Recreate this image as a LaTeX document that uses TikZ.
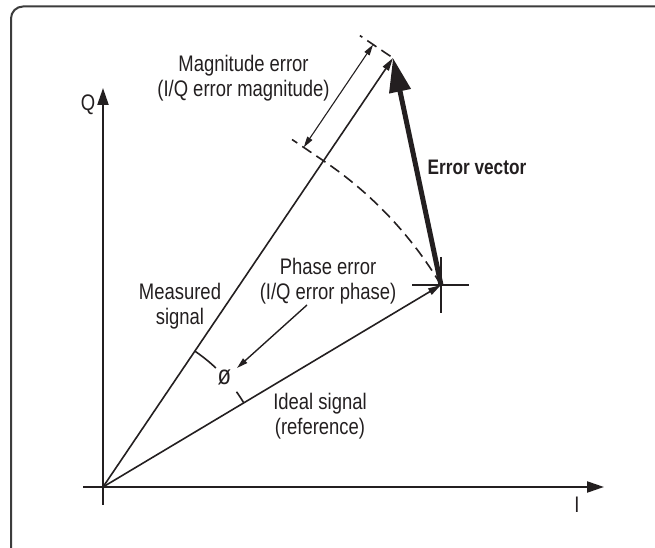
\documentclass[tikz,border=0pt]{standalone}
\usepackage{fontspec}
\setmainfont{Liberation Sans}[FakeStretch=0.82]
\usetikzlibrary{arrows.meta}
\definecolor{ink}{RGB}{35,31,32}
\definecolor{framec}{RGB}{60,60,60}
\begin{document}
\begin{tikzpicture}[x=1pt,y=1pt,
  lbl/.style={font=\fontsize{22.5}{25}\selectfont, inner sep=0pt, anchor=base, text=ink},
  boldlbl/.style={font=\fontsize{21}{25}\selectfont\bfseries, inner sep=0pt, anchor=base, text=ink},
  axisline/.style={draw=ink, line width=2.2pt, -{Triangle[length=17pt,width=11pt]}},
  vecline/.style={draw=ink, line width=1.6pt, -{Triangle[length=13pt,width=7pt]}},
  errvec/.style={draw=ink, line width=5pt, -{Triangle[length=34pt,width=21pt]}},
  dimline/.style={draw=ink, line width=1.1pt, {Triangle[length=11pt,width=6pt]}-{Triangle[length=11pt,width=6pt]}},
  dashline/.style={draw=ink, line width=1.6pt, dash pattern=on 11pt off 6pt},
  thinline/.style={draw=ink, line width=1.6pt},
  crossline/.style={draw=ink, line width=1.4pt},
  framepath/.style={draw=framec, line width=2pt, rounded corners=12pt}
]
\useasboundingbox (0,0) rectangle (655,548);
% frame
\coordinate (F1) at (11,0);
\coordinate (F2) at (11,541.5);
\coordinate (F3) at (655,541.5);
\draw[framepath] (F1) -- (F2) -- (F3);

% key points
\coordinate (O) at (103,61);
\coordinate (M) at (393,490);
\coordinate (P) at (441,263);
\coordinate (Ileft) at (83,61);
\coordinate (Itip) at (604,61);
\coordinate (Qbot) at (103,43);
\coordinate (Qtip) at (103,460);

% axes
\draw[axisline] (Ileft) -- (Itip);
\draw[axisline] (Qbot) -- (Qtip);

% measured and ideal vectors
\draw[vecline] (O) -- (M);
\draw[vecline] (O) -- (P);

% cross at ideal point
\coordinate (CrL) at (412,263);
\coordinate (CrR) at (469,263);
\coordinate (CrT) at (441,291);
\coordinate (CrB) at (441,235);
\draw[crossline] (CrL) -- (CrR);
\draw[crossline] (CrT) -- (CrB);

% dashed arc and extension lines
\draw[dashline] (P) arc[start angle=30.87, end angle=55.94, radius=393.8] -- ++(-31.5,21.3);
\coordinate (UE1) at (390.5,491.7);
\coordinate (UE2) at (359.9,512.4);
\draw[dashline] (UE1) -- (UE2);

% magnitude dimension arrow
\coordinate (D1) at (303.7,400.6);
\coordinate (D2) at (373.1,503.4);
\draw[dimline] (D1) -- (D2);

% error vector
\draw[errvec] (P) -- (M);

% phase angle marks
\draw[thinline] (O) ++(55.94:164) arc[start angle=55.94, end angle=46.5, radius=164];
\draw[thinline] (O) ++(35.5:164) arc[start angle=35.5, end angle=30.87, radius=164];
\node[lbl, anchor=center, font=\fontsize{27}{27}\selectfont] (phi) at (224.5,171) {ø};

% phase error pointer
\coordinate (PA1) at (307,243);
\coordinate (PA2) at (237,180);
\draw[vecline, line width=1.4pt, -{Triangle[length=11pt,width=6pt]}] (PA1) -- (PA2);

% labels
\node[lbl] (mag1) at (243.5,476) {Magnitude error};
\node[lbl] (mag2) at (243.5,451) {(I/Q error magnitude)};
\node[boldlbl] (ev) at (477,373) {Error vector};
\node[lbl] (ph1) at (328,273) {Phase error};
\node[lbl] (ph2) at (328,248) {(I/Q error phase)};
\node[lbl] (ms1) at (180,248) {Measured};
\node[lbl] (ms2) at (180,223) {signal};
\node[lbl] (id1) at (320,138) {Ideal signal};
\node[lbl] (id2) at (320,113) {(reference)};
\node[lbl] (qlab) at (88,437) {Q};
\node[lbl] (ilab) at (577,35) {I};
\end{tikzpicture}
\end{document}
